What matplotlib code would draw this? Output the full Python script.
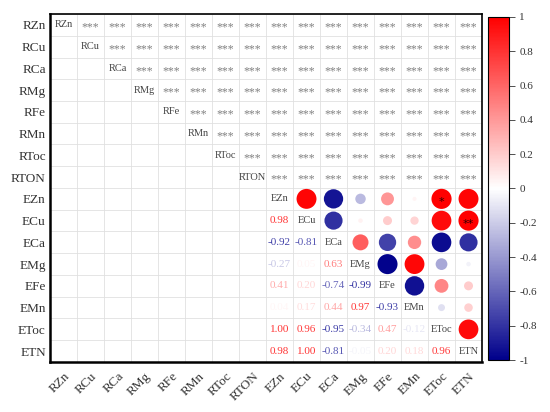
import numpy as np
import matplotlib.pyplot as plt
from matplotlib.colors import LinearSegmentedColormap, Normalize

# variable names
labels = ['RZn', 'RCu', 'RCa', 'RMg', 'RFe', 'RMn', 'RToc', 'RTON',
          'EZn', 'ECu', 'ECa', 'EMg', 'EFe', 'EMn', 'EToc', 'ETN']
n_r = 8

# E block correlations (lower triangle, row by row)
e_names = ['EZn', 'ECu', 'ECa', 'EMg', 'EFe', 'EMn', 'EToc', 'ETN']
r_ecu = [0.98]
r_eca = [-0.92, -0.81]
r_emg = [-0.27, 0.05, 0.63]
r_efe = [0.41, 0.20, -0.74, -0.99]
r_emn = [0.04, 0.17, 0.44, 0.97, -0.93]
r_etoc = [1.00, 0.96, -0.95, -0.34, 0.47, -0.12]
r_etn = [0.98, 1.00, -0.81, -0.05, 0.20, 0.18, 0.96]
lower_rows = [[], r_ecu, r_eca, r_emg, r_efe, r_emn, r_etoc, r_etn]

# significance marks
r_block_sig = '***'
e_stars = {('EZn', 'EToc'): '*', ('ECu', 'ETN'): '**'}

corr = np.eye(8)
for i, row in enumerate(lower_rows):
    for j, v in enumerate(row):
        corr[i, j] = v
        corr[j, i] = v

cmap = LinearSegmentedColormap.from_list('bwr2', ['#00008b', '#ffffff', '#ff0000'])
norm = Normalize(-1, 1)

def text_color(v):
    # numbers look a bit lighter than the circles
    c = np.array(cmap(norm(v))[:3])
    return tuple(c * 0.8 + 0.2 * np.ones(3))

serif = 'Liberation Serif'
fig = plt.figure(figsize=(5.5, 4.12), dpi=100)
ax = fig.add_axes([0.0909, 0.1214, 0.7855, 0.8446])
n = len(labels)
ax.set_xlim(-0.5, n - 0.5)
ax.set_ylim(n - 0.5, -0.5)

for k in range(n + 1):
    ax.axvline(k - 0.5, color='#e0e0e0', lw=0.6, zorder=0)
    ax.axhline(k - 0.5, color='#e0e0e0', lw=0.6, zorder=0)

# diagonal labels
for i, name in enumerate(labels):
    ax.text(i, i, name, ha='center', va='center', fontsize=7.5, color='#444444', family=serif)

# R rows: stars across the upper part
for i in range(n_r):
    for j in range(i + 1, n):
        ax.text(j, i + 0.12, r_block_sig, ha='center', va='center', fontsize=8.5, color='#808080', family=serif)

# E block: circles above, numbers below
xs, ys, vals = [], [], []
for a in range(8):
    for b in range(8):
        v = corr[a, b]
        if b > a:
            xs.append(n_r + b)
            ys.append(n_r + a)
            vals.append(v)
            s = e_stars.get((e_names[a], e_names[b]))
            if s:
                ax.text(n_r + b, n_r + a + 0.15, s, ha='center', va='center', fontsize=8, color='#330000', zorder=4)
        elif b < a:
            ax.text(n_r + b, n_r + a, '%.2f' % v, ha='center', va='center', fontsize=8,
                    color=text_color(v), family=serif)
vals = np.array(vals)
ax.scatter(xs, ys, s=210 * np.abs(vals), c=vals, cmap=cmap, norm=norm, edgecolors='none', zorder=3)

ax.set_xticks(range(n))
ax.set_yticks(range(n))
ax.set_xticklabels(labels, rotation=45, ha='right', rotation_mode='anchor', family=serif, fontsize=9.5, color='#333333')
ax.set_yticklabels(labels, family=serif, fontsize=9.5, color='#333333')
ax.tick_params(length=0, pad=3)
ax.tick_params(axis='x', pad=6)
for name, sp in ax.spines.items():
    sp.set_linewidth(1.8 if name in ('left', 'bottom') else 1.2)

cax = fig.add_axes([0.887, 0.126, 0.038, 0.833])
cb = fig.colorbar(plt.cm.ScalarMappable(norm=norm, cmap=cmap), cax=cax)
cb.set_ticks([1, 0.8, 0.6, 0.4, 0.2, 0, -0.2, -0.4, -0.6, -0.8, -1])
cb.set_ticklabels(['1', '0.8', '0.6', '0.4', '0.2', '0', '-0.2', '-0.4', '-0.6', '-0.8', '-1'])
cb.ax.tick_params(labelsize=8, length=4, width=0.6, colors='#333333')
for t in cb.ax.get_yticklabels():
    t.set_family(serif)
cb.outline.set_linewidth(0.8)

fig.savefig('out.png', dpi=100)
